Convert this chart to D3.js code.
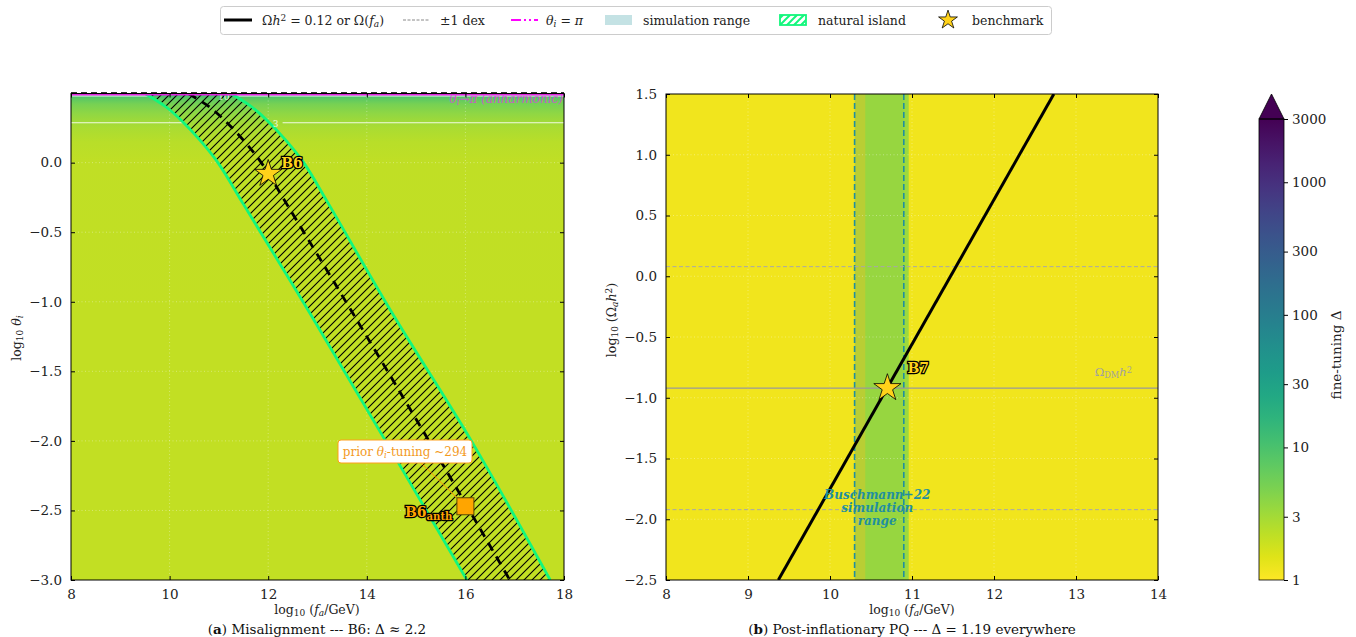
<!DOCTYPE html>
<html><head><meta charset="utf-8">
<script src="https://cdn.jsdelivr.net/npm/d3@7"></script>
<style>body{margin:0;background:#fff} svg{font-family:"DejaVu Serif",serif}</style>
</head><body><svg id="c" width="1356" height="637"></svg>
<script>
// ---------------- data ----------------
const aXTicks=[8,10,12,14,16,18];
const aYTicks=[0.0,-0.5,-1.0,-1.5,-2.0,-2.5,-3.0];
const bXTicks=[8,9,10,11,12,13,14];
const bYTicks=[1.5,1.0,0.5,0.0,-0.5,-1.0,-1.5,-2.0,-2.5];
const cbTicks=[1,3,10,30,100,300,1000,3000];
// panel (a) curves: log10 theta_i (edgeLT) vs log10 f_a
const edgeLT=[0.497,0.45,0.40,0.30,0.16,0.0,-0.30,-1.085,-2.0,-3.0];
const leftLF=[9.50,9.72,9.93,10.25,10.62,10.98,11.50,12.85,14.38,16.03];
const centerLF=[10.38,10.60,10.81,11.13,11.50,11.86,12.38,13.72,15.26,16.9];
const rightLF=[11.24,11.46,11.67,11.99,12.36,12.72,13.23,14.52,16.12,17.72];
// panel (a) background fine-tuning vs theta
const bgLT=[-3.0,-1.0,0.0,0.15,0.25,0.287,0.35,0.42,0.46,0.48,0.497];
const bgDelta=[2.1,2.1,2.15,2.4,2.75,3.0,3.8,5.2,7.5,10,13];
const contourLT=[0.287,0.48];
const contourLabels=["3","10"];
const contourLabelLF=[12.15,11.1];
const b6=[12.0,-0.08];
const b6anh=[16.0,-2.47];
const thetaPi=0.4971;
const priorTuning=294;
// panel (b)
const omegaLF=[9.37,12.73];
const omegaLO=[-2.5,1.5];
const omegaDM=-0.921;
const dexLines=[0.079,-1.921];
const b7=[10.7,-0.92];
const simRange=[10.3,10.9];
const cellRange=[10.43,10.96];
const cellDelta=3.7;
const deltaB=1.19;
const deltaA=2.2;

// ---------------- setup ----------------
const svg=d3.select("#c");
const defs=svg.append("defs");
const cmap=d=>d3.interpolateViridis(1-Math.log10(d)/Math.log10(3000));
const serif='"DejaVu Serif",serif';

function mtext(sel,parts){
  parts.forEach(([t,o])=>{
    o=o||{};
    const ts=sel.append("tspan").text(t);
    if(o.i) ts.attr("font-style","italic");
    if(o.b) ts.attr("font-weight","bold");
    if(o.sub) ts.attr("baseline-shift","-25%").attr("font-size","72%");
    if(o.sup) ts.attr("baseline-shift","40%").attr("font-size","72%");
  });
  return sel;
}

const pat=defs.append("pattern").attr("id","hatch").attr("patternUnits","userSpaceOnUse")
  .attr("width",8).attr("height",8);
pat.append("path").attr("d","M-2,2 L2,-2 M0,8 L8,0 M6,10 L10,6").attr("stroke","#000").attr("stroke-width",1.1);
const pat2=defs.append("pattern").attr("id","hatchS").attr("patternUnits","userSpaceOnUse")
  .attr("width",7).attr("height",7);
pat2.append("rect").attr("width",7).attr("height",7).attr("fill","#fff");
pat2.append("path").attr("d","M-2,2 L2,-2 M0,7 L7,0 M5,9 L9,5").attr("stroke","#12f77c").attr("stroke-width",2);

// ---------------- panel (a) ----------------
const ax=d3.scaleLinear().domain([8,18]).range([71,564]);
const ay=d3.scaleLinear().domain([-3,thetaPi]).range([580,93.5]);
const ga=svg.append("g");
defs.append("clipPath").attr("id","clipA").append("rect")
  .attr("x",71).attr("y",93.5).attr("width",493).attr("height",486.5);

const lgA=defs.append("linearGradient").attr("id","bgA").attr("gradientUnits","userSpaceOnUse")
  .attr("x1",0).attr("x2",0).attr("y1",ay(-3)).attr("y2",ay(thetaPi));
bgLT.forEach((t,i)=>lgA.append("stop").attr("offset",(t+3)/(thetaPi+3)).attr("stop-color",cmap(bgDelta[i])));
ga.append("rect").attr("x",71).attr("y",93.5).attr("width",493).attr("height",486.5).attr("fill","url(#bgA)");

const gridA=ga.append("g").attr("stroke","#fff").attr("stroke-opacity",0.45).attr("stroke-dasharray","1,2.5").attr("stroke-width",0.8);
aXTicks.slice(1,-1).forEach(v=>gridA.append("line").attr("x1",ax(v)).attr("x2",ax(v)).attr("y1",93.5).attr("y2",580));
aYTicks.slice(0,-1).forEach(v=>gridA.append("line").attr("x1",71).attr("x2",564).attr("y1",ay(v)).attr("y2",ay(v)));

contourLT.forEach((t,i)=>{
  const lx=ax(contourLabelLF[i]);
  const g=ga.append("g").attr("clip-path","url(#clipA)");
  g.append("line").attr("x1",71).attr("x2",lx-7).attr("y1",ay(t)).attr("y2",ay(t)).attr("stroke","#fff").attr("stroke-opacity",0.85).attr("stroke-width",1.2);
  g.append("line").attr("x1",lx+7).attr("x2",564).attr("y1",ay(t)).attr("y2",ay(t)).attr("stroke","#fff").attr("stroke-opacity",0.85).attr("stroke-width",1.2);
});

const crv=d3.curveCatmullRom.alpha(0.5);
const band=d3.area().curve(crv).y((d,i)=>ay(edgeLT[i])).x0((d,i)=>ax(leftLF[i])).x1((d,i)=>ax(rightLF[i]));
const gBand=ga.append("g").attr("clip-path","url(#clipA)");
gBand.append("path").attr("d",band(edgeLT)).attr("fill","url(#bgA)");
gBand.append("path").attr("d",band(edgeLT)).attr("fill","url(#hatch)");
const edgeLine=arr=>d3.line().curve(crv).y((d,i)=>ay(edgeLT[i])).x((d,i)=>ax(arr[i]))(edgeLT);
gBand.append("path").attr("d",edgeLine(leftLF)).attr("fill","none").attr("stroke","#12f77c").attr("stroke-width",2.8);
gBand.append("path").attr("d",edgeLine(rightLF)).attr("fill","none").attr("stroke","#12f77c").attr("stroke-width",2.8);
gBand.append("path").attr("d",edgeLine(centerLF))
  .attr("fill","none").attr("stroke","#000").attr("stroke-width",2.8).attr("stroke-dasharray","9,7");

contourLT.forEach((t,i)=>{
  ga.append("text").attr("x",ax(contourLabelLF[i])).attr("y",ay(t)+4).attr("text-anchor","middle").attr("font-size",9)
    .attr("fill","#fff").attr("fill-opacity",0.85).text(contourLabels[i]);
});

ga.append("line").attr("x1",71).attr("x2",564).attr("y1",ay(thetaPi)+1).attr("y2",ay(thetaPi)+1)
  .attr("stroke","#e020e0").attr("stroke-width",2.2);
ga.append("line").attr("x1",71).attr("x2",564).attr("y1",ay(thetaPi)-1).attr("y2",ay(thetaPi)-1)
  .attr("stroke","#333").attr("stroke-width",1.2).attr("stroke-dasharray","6,4");
mtext(ga.append("text").attr("x",563).attr("y",ay(thetaPi)+9).attr("text-anchor","end").attr("font-size",12)
  .attr("fill","#e040e0").attr("fill-opacity",0.8).attr("font-style","italic"),[["θ"],["i",{sub:1}],["→π (anharmonic)"]]);

const bx=ax(b6anh[0]),by=ay(b6anh[1]);
ga.append("line").attr("x1",420).attr("y1",462).attr("x2",bx-8).attr("y2",by-8).attr("stroke","#ff9900").attr("stroke-width",1);
ga.append("rect").attr("x",338).attr("y",440).attr("width",134).attr("height",23).attr("rx",3)
  .attr("fill","#fff").attr("stroke","#ff9f1a").attr("stroke-width",1);
mtext(ga.append("text").attr("x",405).attr("y",455.5).attr("text-anchor","middle").attr("font-size",12).attr("fill","#f39a1e"),
  [["prior "],["θ",{i:1}],["i",{i:1,sub:1}],["-tuning  ~"+priorTuning]]);

ga.append("path").attr("d",d3.symbol(d3.symbolStar,230)()).attr("transform",`translate(${ax(b6[0])},${ay(b6[1])})`)
  .attr("fill","#ffd21a").attr("stroke","#000").attr("stroke-width",0.8);
ga.append("text").attr("x",ax(b6[0])+13).attr("y",ay(b6[1])-6).attr("font-size",14).attr("font-weight","bold")
  .attr("fill","#ffd21a").attr("stroke","#000").attr("stroke-width",2.5).attr("paint-order","stroke").text("B6");
ga.append("rect").attr("x",bx-8.5).attr("y",by-8.5).attr("width",17).attr("height",17)
  .attr("fill","#ffa500").attr("stroke","#5a4a00").attr("stroke-width",1);
mtext(ga.append("text").attr("x",bx-13).attr("y",by+11).attr("text-anchor","end").attr("font-size",14).attr("font-weight","bold")
  .attr("fill","#ffa500").attr("stroke","#000").attr("stroke-width",2.5).attr("paint-order","stroke"),[["B6"],["anth",{sub:1}]]);

function frame(g,x,y,xt,yt,fmtY){
  const [x0,x1]=x.range(), [y0,y1]=y.range();
  g.append("g").attr("transform",`translate(0,${y0})`).call(d3.axisBottom(x).tickValues(xt).tickSizeInner(-4).tickSizeOuter(0).tickPadding(9).tickFormat(d3.format("d")));
  g.append("g").attr("transform",`translate(0,${y1})`).call(d3.axisTop(x).tickValues(xt).tickSizeInner(-4).tickSizeOuter(0).tickFormat(""));
  g.append("g").attr("transform",`translate(${x0},0)`).call(d3.axisLeft(y).tickValues(yt).tickSizeInner(-4).tickSizeOuter(0).tickPadding(9).tickFormat(fmtY));
  g.append("g").attr("transform",`translate(${x1},0)`).call(d3.axisRight(y).tickValues(yt).tickSizeInner(-4).tickSizeOuter(0).tickFormat(""));
  g.selectAll(".domain").remove();
  g.selectAll(".tick text").attr("font-family",serif).attr("font-size",13.5).attr("fill","#222");
  g.selectAll(".tick line").attr("stroke","#000");
  g.append("rect").attr("x",x0).attr("y",y1).attr("width",x1-x0).attr("height",y0-y1).attr("fill","none").attr("stroke","#000").attr("stroke-width",1);
}
const fmt1=v=>d3.format(".1f")(v).replace("-","−");
frame(ga,ax,ay,aXTicks,aYTicks,fmt1);

mtext(ga.append("text").attr("x",317).attr("y",614).attr("text-anchor","middle").attr("font-size",12.5).attr("fill","#222"),
  [["log"],["10",{sub:1}],[" ("],["f",{i:1}],["a",{i:1,sub:1}],["/GeV)"]]);
mtext(ga.append("text").attr("transform","translate(21,338) rotate(-90)").attr("text-anchor","middle").attr("font-size",12.5).attr("fill","#222"),
  [["log"],["10",{sub:1}],[" θ",{i:1}],["i",{i:1,sub:1}]]);
mtext(ga.append("text").attr("x",317).attr("y",634).attr("text-anchor","middle").attr("font-size",13.5).attr("fill","#111"),
  [["("],["a",{b:1}],[")  Misalignment  ---  B6: Δ ≈ "+deltaA]]);

// ---------------- panel (b) ----------------
const bxs=d3.scaleLinear().domain([8,14]).range([666,1158]);
const bys=d3.scaleLinear().domain([-2.5,1.5]).range([580,94]);
const gb=svg.append("g");
defs.append("clipPath").attr("id","clipB").append("rect").attr("x",666).attr("y",94).attr("width",492).attr("height",486);
gb.append("rect").attr("x",666).attr("y",94).attr("width",492).attr("height",486).attr("fill",cmap(deltaB));
gb.append("rect").attr("x",bxs(simRange[0])).attr("y",94).attr("width",bxs(simRange[1])-bxs(simRange[0])).attr("height",486)
  .attr("fill","#008080").attr("fill-opacity",0.23);
gb.append("rect").attr("x",bxs(cellRange[0])).attr("y",94).attr("width",bxs(cellRange[1])-bxs(cellRange[0])).attr("height",486)
  .attr("fill",cmap(cellDelta)).attr("fill-opacity",0.9);
const gridB=gb.append("g").attr("stroke","#fff").attr("stroke-opacity",0.45).attr("stroke-dasharray","1,2.5").attr("stroke-width",0.8);
bXTicks.slice(1,-1).forEach(v=>gridB.append("line").attr("x1",bxs(v)).attr("x2",bxs(v)).attr("y1",94).attr("y2",580));
bYTicks.slice(1,-1).forEach(v=>gridB.append("line").attr("x1",666).attr("x2",1158).attr("y1",bys(v)).attr("y2",bys(v)));
simRange.forEach(v=>gb.append("line").attr("x1",bxs(v)).attr("x2",bxs(v)).attr("y1",94).attr("y2",580)
  .attr("stroke","#1f8f9f").attr("stroke-width",1.6).attr("stroke-dasharray","6,3"));
dexLines.forEach(v=>gb.append("line").attr("x1",666).attr("x2",1158).attr("y1",bys(v)).attr("y2",bys(v))
  .attr("stroke","#a8a8a8").attr("stroke-width",1).attr("stroke-dasharray","4,2.5"));
gb.append("line").attr("x1",666).attr("x2",1158).attr("y1",bys(omegaDM)).attr("y2",bys(omegaDM)).attr("stroke","#999").attr("stroke-width",1.3);
mtext(gb.append("text").attr("x",1132).attr("y",bys(omegaDM)-12).attr("text-anchor","end").attr("font-size",11.5).attr("fill","#a0a0a0"),
  [["Ω"],["DM",{sub:1}],["h",{i:1}],["2",{sup:1}]]);
gb.append("g").attr("clip-path","url(#clipB)").append("line").attr("x1",bxs(omegaLF[0])).attr("y1",bys(omegaLO[0])).attr("x2",bxs(omegaLF[1])).attr("y2",bys(omegaLO[1]))
  .attr("stroke","#000").attr("stroke-width",3);
const tb=gb.append("text").attr("text-anchor","middle").attr("font-size",12).attr("font-weight","bold").attr("font-style","italic").attr("fill","#1f8f9f");
["Buschmann+22","simulation","range"].forEach((s,i)=>tb.append("tspan").attr("x",bxs((simRange[0]+simRange[1])/2)-2).attr("y",499+i*13).text(s));
gb.append("path").attr("d",d3.symbol(d3.symbolStar,230)()).attr("transform",`translate(${bxs(b7[0])},${bys(b7[1])})`)
  .attr("fill","#ffd21a").attr("stroke","#000").attr("stroke-width",0.8);
gb.append("text").attr("x",bxs(b7[0])+20).attr("y",bys(b7[1])-15).attr("font-size",14).attr("font-weight","bold")
  .attr("fill","#ffd21a").attr("stroke","#000").attr("stroke-width",2.5).attr("paint-order","stroke").text("B7");
frame(gb,bxs,bys,bXTicks,bYTicks,fmt1);
mtext(gb.append("text").attr("x",912).attr("y",614).attr("text-anchor","middle").attr("font-size",12.5).attr("fill","#222"),
  [["log"],["10",{sub:1}],[" ("],["f",{i:1}],["a",{i:1,sub:1}],["/GeV)"]]);
mtext(gb.append("text").attr("transform","translate(616,320) rotate(-90)").attr("text-anchor","middle").attr("font-size",12.5).attr("fill","#222"),
  [["log"],["10",{sub:1}],[" (Ω"],["a",{i:1,sub:1}],["h",{i:1}],["2",{sup:1}],[")"]]);
mtext(gb.append("text").attr("x",912).attr("y",634).attr("text-anchor","middle").attr("font-size",13.5).attr("fill","#111"),
  [["("],["b",{b:1}],[")  Post-inflationary PQ  ---  Δ = "+deltaB+" everywhere"]]);

// ---------------- colorbar ----------------
const cy=d3.scaleLog().domain([1,3000]).range([580,119]);
const gc=svg.append("g");
const lgC=defs.append("linearGradient").attr("id","cb").attr("x1",0).attr("x2",0).attr("y1",1).attr("y2",0);
d3.range(0,1.0001,0.05).forEach(t=>lgC.append("stop").attr("offset",t).attr("stop-color",d3.interpolateViridis(1-t)));
gc.append("rect").attr("x",1259).attr("y",119).attr("width",25).attr("height",461).attr("fill","url(#cb)");
gc.append("path").attr("d","M1259,119 L1271.5,94 L1284,119 Z").attr("fill",d3.interpolateViridis(0)).attr("stroke","#000").attr("stroke-width",0.8);
gc.append("rect").attr("x",1259).attr("y",119).attr("width",25).attr("height",461).attr("fill","none").attr("stroke","#000").attr("stroke-width",0.8);
const ca=gc.append("g").attr("transform","translate(1284,0)").call(d3.axisRight(cy).tickValues(cbTicks).tickSize(4).tickPadding(4).tickFormat(d3.format("d")));
ca.select(".domain").remove();
ca.selectAll(".tick text").attr("font-family",serif).attr("font-size",13.5).attr("fill","#222");
gc.append("text").attr("transform","translate(1341,355) rotate(-90)").attr("text-anchor","middle").attr("font-size",13.5).attr("fill","#222").text("fine-tuning Δ");

// ---------------- legend ----------------
const gl=svg.append("g");
gl.append("rect").attr("x",220.5).attr("y",6.5).attr("width",831).attr("height",28).attr("rx",3).attr("fill","#fff").attr("stroke","#ccc");
const ly=21;
gl.append("line").attr("x1",224).attr("x2",252).attr("y1",ly-1).attr("y2",ly-1).attr("stroke","#000").attr("stroke-width",3);
mtext(gl.append("text").attr("x",262).attr("y",ly+4).attr("font-size",12.5).attr("fill","#222"),
  [["Ω"],["h",{i:1}],["2",{sup:1}],[" = 0.12 or Ω("],["f",{i:1}],["a",{i:1,sub:1}],[")"]]);
gl.append("line").attr("x1",403).attr("x2",430).attr("y1",ly-1).attr("y2",ly-1).attr("stroke","#888").attr("stroke-width",1).attr("stroke-dasharray","3,1.5");
gl.append("text").attr("x",440).attr("y",ly+4).attr("font-size",12.5).attr("fill","#222").text("±1 dex");
gl.append("line").attr("x1",511).attr("x2",538).attr("y1",ly-1).attr("y2",ly-1).attr("stroke","#ff00ff").attr("stroke-width",2).attr("stroke-dasharray","10,3,2,3,2,3");
mtext(gl.append("text").attr("x",546).attr("y",ly+4).attr("font-size",12.5).attr("fill","#222"),[["θ",{i:1}],["i",{i:1,sub:1}],[" = π",{i:1}]]);
gl.append("rect").attr("x",605).attr("y",ly-6).attr("width",27).attr("height",10).attr("fill","#c4e2e4");
gl.append("text").attr("x",643).attr("y",ly+4).attr("font-size",12.5).attr("fill","#222").text("simulation range");
gl.append("rect").attr("x",780).attr("y",ly-6).attr("width",26).attr("height",10).attr("fill","url(#hatchS)").attr("stroke","#12f77c").attr("stroke-width",1.8);
gl.append("text").attr("x",818).attr("y",ly+4).attr("font-size",12.5).attr("fill","#222").text("natural island");
gl.append("path").attr("d",d3.symbol(d3.symbolStar,110)()).attr("transform",`translate(948,${ly-1})`).attr("fill","#ffd21a").attr("stroke","#000").attr("stroke-width",0.8);
gl.append("text").attr("x",972).attr("y",ly+4).attr("font-size",12.5).attr("fill","#222").text("benchmark");
</script></body></html>
